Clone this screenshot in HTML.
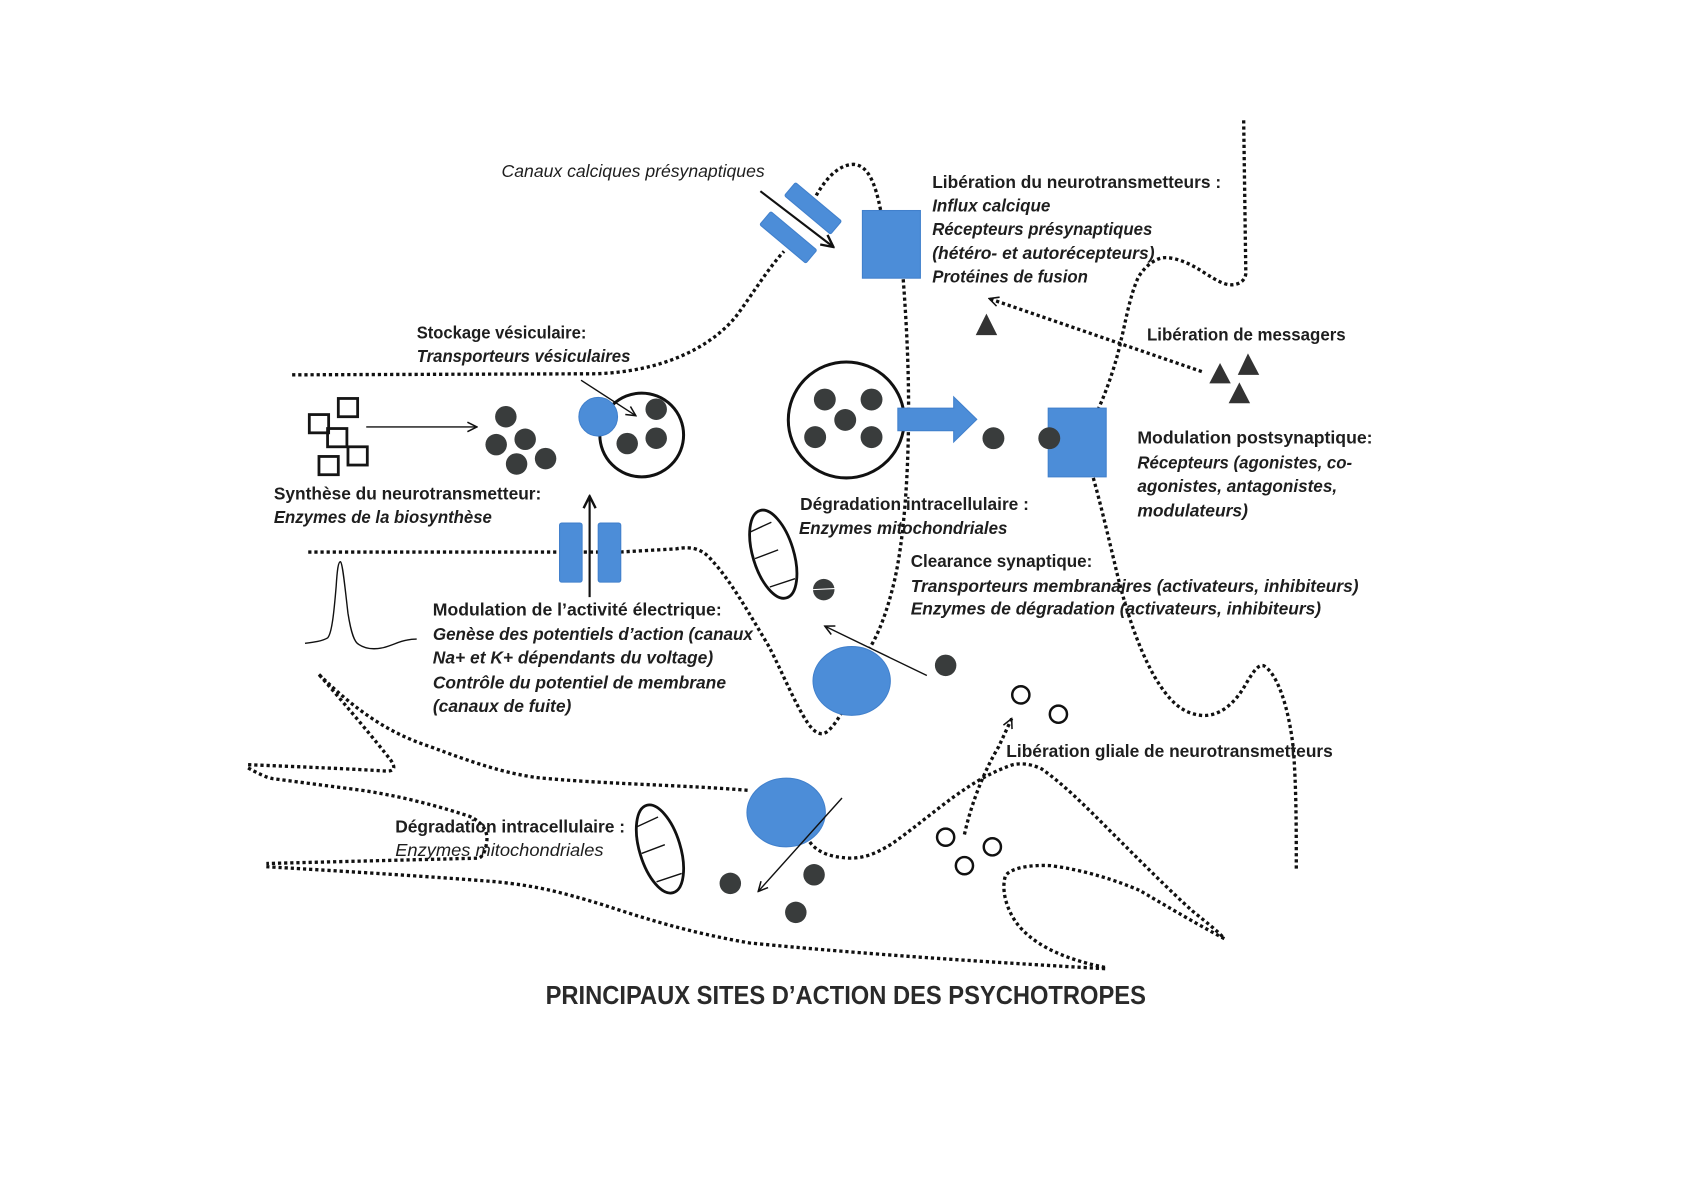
<!DOCTYPE html>
<html><head><meta charset="utf-8"><style>
html,body{margin:0;padding:0;background:#fff;}
svg{display:block;}
.d{fill:none;stroke:#111;stroke-width:3.1;stroke-dasharray:3 2.7;}
.t{font-family:"Liberation Sans",sans-serif;font-size:16px;fill:#1e1e1e;}
.b{font-weight:bold;}
.i{font-style:italic;}
.blue{fill:#4c8dd8;stroke:#4180cc;stroke-width:1;}
.dot{fill:#393c3c;}
.tl{fill:none;stroke:#111;stroke-width:1.3;}
</style></head><body>
<svg width="1684" height="1190" viewBox="0 0 1568 1108" xmlns="http://www.w3.org/2000/svg">
<defs>
<marker id="ah" viewBox="0 0 10 10" refX="9" refY="5" markerWidth="11" markerHeight="11" markerUnits="userSpaceOnUse" orient="auto"><path d="M1,1 L9,5 L1,9" fill="none" stroke="#111" stroke-width="1.3" stroke-dasharray="none"/></marker>
<marker id="ah2" viewBox="0 0 10 10" refX="9" refY="5" markerWidth="14" markerHeight="14" markerUnits="userSpaceOnUse" orient="auto"><path d="M1,1 L9,5 L1,9" fill="none" stroke="#111" stroke-width="1.6" stroke-dasharray="none"/></marker>
</defs>
<rect x="0" y="0" width="1568" height="1108" fill="#fff"/>

<!-- presynaptic upper membrane -->
<path class="d" d="M272,349 L555,348 C615,346 660,325 685,295 C700,275 715,250 730,234"/>
<path class="d" d="M760,182 C768,168 780,153 795,153 C808,154 815,170 820,196"/>
<path class="d" d="M841,260 C844,300 846,340 846,380 C846,440 842,500 833,540 C826,570 818,590 810,603"/>
<!-- presynaptic lower membrane -->
<path class="d" d="M287,514 L577,514 L630,511 C645,508 655,512 663,522 C680,540 698,572 716,602 C728,625 740,655 752,673 C758,682 764,685 769,682 C775,678 780,670 784,663"/>

<!-- right neuron -->
<path class="d" d="M1158,112 L1160,254 C1160,262 1152,266 1144,265 C1136,264 1125,256 1115,250 C1105,244 1092,239 1083,240 C1075,241 1066,248 1060,258 C1052,275 1048,300 1044,316 C1040,335 1032,360 1023,380"/>
<path class="d" d="M1018,445 C1025,470 1032,500 1038,525 C1046,560 1058,600 1075,630 C1088,652 1100,664 1118,666 C1135,668 1150,655 1160,637 C1167,625 1172,618 1177,620 C1190,628 1200,660 1204,695 C1207,730 1207,770 1207,810"/>

<!-- glial cell -->
<path class="d" d="M231,712 C280,714 330,716 360,718 C368,718 368,714 364,708 C350,690 325,660 297,628"/>
<path class="d" d="M297,628 C330,660 360,682 400,695 C440,710 470,720 500,724 C560,730 640,731 698,736"/>
<path class="d" d="M231,715 C240,720 248,724 254,725 L338,736 C370,741 400,748 437,760 C450,766 455,775 453,785 C452,792 450,797 446,799 L248,804"/>
<path class="d" d="M248,807 C300,810 400,816 462,821 C500,825 520,830 560,842 C600,855 640,868 698,878 C760,884 850,892 1030,902"/>
<path class="d" d="M754,784 C760,792 770,798 791,799 C805,799 815,795 830,786 C850,772 870,755 888,742 C905,730 920,720 943,712 C952,710 962,712 970,716 C990,730 1010,750 1030,770 C1060,800 1090,830 1110,848 C1125,860 1135,868 1140,874"/>
<path class="d" d="M1140,874 C1110,858 1080,840 1061,829 C1040,820 1010,810 978,806 C960,805 940,808 936,816 C932,830 938,848 947,860 C960,877 985,892 1030,901"/>

<!-- dotted arrows -->
<path class="d" d="M1119,346 L921,278" marker-end="url(#ah)"/>
<path class="d" d="M898,777 C905,745 918,715 930,695 L942,669" marker-end="url(#ah)"/>

<!-- calcium channel -->
<rect class="blue" x="729" y="186" width="56" height="16" rx="1.5" transform="rotate(40 757 194)"/>
<rect class="blue" x="706" y="213" width="56" height="16" rx="1.5" transform="rotate(40 734 221)"/>
<path d="M708,178 L776,230" fill="none" stroke="#111" stroke-width="2" marker-end="url(#ah2)"/>

<!-- presynaptic receptor -->
<rect class="blue" x="803" y="196" width="54" height="63"/>

<!-- synthesis -->
<g fill="none" stroke="#151515" stroke-width="2.6">
<rect x="315" y="371" width="18" height="17"/>
<rect x="288" y="386" width="18" height="17"/>
<rect x="305" y="399" width="18" height="17"/>
<rect x="324" y="416" width="18" height="17"/>
<rect x="297" y="425" width="18" height="17"/>
</g>
<path class="tl" d="M341,397.5 L444,397.5" marker-end="url(#ah)"/>
<circle class="dot" cx="471" cy="388" r="10"/>
<circle class="dot" cx="489" cy="409" r="10"/>
<circle class="dot" cx="462" cy="414" r="10"/>
<circle class="dot" cx="481" cy="432" r="10"/>
<circle class="dot" cx="508" cy="427" r="10"/>

<!-- storage vesicle -->
<circle cx="597.5" cy="405" r="39" fill="#fff" stroke="#111" stroke-width="2.8"/>
<circle class="dot" cx="611" cy="381" r="10"/>
<circle class="dot" cx="611" cy="408" r="10"/>
<circle class="dot" cx="584" cy="413" r="10"/>
<circle class="blue" cx="557" cy="388" r="18"/>
<path class="tl" d="M541,354 L592,387" marker-end="url(#ah)"/>

<!-- voltage channel -->
<rect class="blue" x="521" y="487" width="21" height="55" rx="2"/>
<rect class="blue" x="557" y="487" width="21" height="55" rx="2"/>
<path d="M549,556 L549,462" fill="none" stroke="#111" stroke-width="2" marker-end="url(#ah2)"/>

<!-- action potential -->
<path d="M284,599 C292,598 300,597 305,594 C309,590 311,570 313,546 C314,530 315,523 317,523 C319,524 321,545 324,571 C327,590 330,598 334,600 C340,604 348,605 357,603 C365,601 372,597 379,596 C383,595 386,595 388,595" fill="none" stroke="#111" stroke-width="1.3"/>

<!-- big vesicle -->
<circle cx="788" cy="391" r="54" fill="none" stroke="#111" stroke-width="2.8"/>
<circle class="dot" cx="768" cy="372" r="10.2"/>
<circle class="dot" cx="811.5" cy="372" r="10.2"/>
<circle class="dot" cx="787" cy="391" r="10.2"/>
<circle class="dot" cx="759" cy="407" r="10.2"/>
<circle class="dot" cx="811.5" cy="407" r="10.2"/>
<!-- release arrow -->
<path class="blue" d="M836,380 L888,380 L888,369.5 L909.5,390.5 L888,411.5 L888,401 L836,401 Z"/>
<circle class="dot" cx="925" cy="408" r="10.2"/>
<!-- postsynaptic receptor -->
<rect class="blue" x="976" y="380" width="54" height="64"/>
<circle class="dot" cx="977" cy="408" r="10.2"/>

<!-- triangles -->
<g fill="#333">
<polygon points="918.5,292 908.5,312 928.5,312"/>
<polygon points="1136,338 1126,357 1146,357"/>
<polygon points="1162,329 1152.5,349 1172.5,349"/>
<polygon points="1154,356 1144,375.5 1164,375.5"/>
</g>

<!-- upper mitochondrion -->
<g transform="translate(720,516) rotate(-17)">
<ellipse cx="0" cy="0" rx="19" ry="42.5" fill="#fff" stroke="#111" stroke-width="2.6"/>
<path d="M-14.7,-26 L7,-29 M-17.5,-1 L5.5,-2.5 M-12,28.3 L12.7,27.7" stroke="#111" stroke-width="1.3" fill="none"/>
</g>
<circle class="dot" cx="767" cy="549" r="10"/>
<path d="M757,549 L777,548" stroke="#fff" stroke-width="1"/>

<!-- clearance transporter -->
<ellipse class="blue" cx="793" cy="634" rx="36" ry="32"/>
<path class="tl" d="M863,629 L768,583" marker-end="url(#ah)"/>
<circle class="dot" cx="880.5" cy="619.5" r="10"/>

<!-- glial open circles -->
<g fill="#fff" stroke="#111" stroke-width="2.3">
<circle cx="950.5" cy="647" r="8"/>
<circle cx="985.5" cy="665" r="8"/>
<circle cx="880.5" cy="779.5" r="8"/>
<circle cx="924" cy="788.5" r="8"/>
<circle cx="898" cy="806" r="8"/>
</g>

<!-- glial transporter -->
<ellipse class="blue" cx="732" cy="756.5" rx="36.5" ry="32"/>
<path class="tl" d="M784,743 L706,830" marker-end="url(#ah)"/>
<circle class="dot" cx="680" cy="822.5" r="10"/>
<circle class="dot" cx="758" cy="814.5" r="10"/>
<circle class="dot" cx="741" cy="849.5" r="10"/>

<!-- lower mitochondrion -->
<g transform="translate(614.5,790.5) rotate(-17)">
<ellipse cx="0" cy="0" rx="19" ry="42.5" fill="#fff" stroke="#111" stroke-width="2.6"/>
<path d="M-14.7,-26 L7,-29 M-17.5,-1 L5.5,-2.5 M-12,28.3 L12.7,27.7" stroke="#111" stroke-width="1.3" fill="none"/>
</g>

<!-- TEXT -->
<text class="t i" x="467" y="165" textLength="245" lengthAdjust="spacingAndGlyphs">Canaux calciques présynaptiques</text>
<text class="t b" x="868" y="175" textLength="269" lengthAdjust="spacingAndGlyphs">Libération du neurotransmetteurs :</text>
<text class="t b i" x="868" y="197" textLength="110" lengthAdjust="spacingAndGlyphs">Influx calcique</text>
<text class="t b i" x="868" y="219" textLength="205" lengthAdjust="spacingAndGlyphs">Récepteurs présynaptiques</text>
<text class="t b i" x="868" y="241" textLength="207" lengthAdjust="spacingAndGlyphs">(hétéro- et autorécepteurs)</text>
<text class="t b i" x="868" y="263" textLength="145" lengthAdjust="spacingAndGlyphs">Protéines de fusion</text>
<text class="t b" x="388" y="315" textLength="158" lengthAdjust="spacingAndGlyphs">Stockage vésiculaire:</text>
<text class="t b i" x="388" y="337" textLength="199" lengthAdjust="spacingAndGlyphs">Transporteurs vésiculaires</text>
<text class="t b" x="1068" y="317" textLength="185" lengthAdjust="spacingAndGlyphs">Libération de messagers</text>
<text class="t b" x="1059" y="413" textLength="219" lengthAdjust="spacingAndGlyphs">Modulation postsynaptique:</text>
<text class="t b i" x="1059" y="436" textLength="200" lengthAdjust="spacingAndGlyphs">Récepteurs (agonistes, co-</text>
<text class="t b i" x="1059" y="458" textLength="186" lengthAdjust="spacingAndGlyphs">agonistes, antagonistes,</text>
<text class="t b i" x="1059" y="481" textLength="103" lengthAdjust="spacingAndGlyphs">modulateurs)</text>
<text class="t b" x="255" y="465" textLength="249" lengthAdjust="spacingAndGlyphs">Synthèse du neurotransmetteur:</text>
<text class="t b i" x="255" y="487" textLength="203" lengthAdjust="spacingAndGlyphs">Enzymes de la biosynthèse</text>
<text class="t b" x="745" y="475" textLength="213" lengthAdjust="spacingAndGlyphs">Dégradation intracellulaire :</text>
<text class="t b i" x="744" y="497" textLength="194" lengthAdjust="spacingAndGlyphs">Enzymes mitochondriales</text>
<text class="t b" x="848" y="528" textLength="169" lengthAdjust="spacingAndGlyphs">Clearance synaptique:</text>
<text class="t b i" x="848" y="551" textLength="417" lengthAdjust="spacingAndGlyphs">Transporteurs membranaires (activateurs, inhibiteurs)</text>
<text class="t b i" x="848" y="572" textLength="382" lengthAdjust="spacingAndGlyphs">Enzymes de dégradation (activateurs, inhibiteurs)</text>
<text class="t b" x="403" y="573" textLength="269" lengthAdjust="spacingAndGlyphs">Modulation de l’activité électrique:</text>
<text class="t b i" x="403" y="596" textLength="298" lengthAdjust="spacingAndGlyphs">Genèse des potentiels d’action (canaux</text>
<text class="t b i" x="403" y="618" textLength="261" lengthAdjust="spacingAndGlyphs">Na+ et K+ dépendants du voltage)</text>
<text class="t b i" x="403" y="641" textLength="273" lengthAdjust="spacingAndGlyphs">Contrôle du potentiel de membrane</text>
<text class="t b i" x="403" y="663" textLength="129" lengthAdjust="spacingAndGlyphs">(canaux de fuite)</text>
<text class="t b" x="937" y="705" textLength="304" lengthAdjust="spacingAndGlyphs">Libération gliale de neurotransmetteurs</text>
<text class="t b" x="368" y="775" textLength="214" lengthAdjust="spacingAndGlyphs">Dégradation intracellulaire :</text>
<text class="t i" x="368" y="797" textLength="194" lengthAdjust="spacingAndGlyphs">Enzymes mitochondriales</text>
<text class="t b" x="508" y="935" style="font-size:24px;fill:#2a2a2a" textLength="559" lengthAdjust="spacingAndGlyphs">PRINCIPAUX SITES D’ACTION DES PSYCHOTROPES</text>
</svg>
</body></html>
